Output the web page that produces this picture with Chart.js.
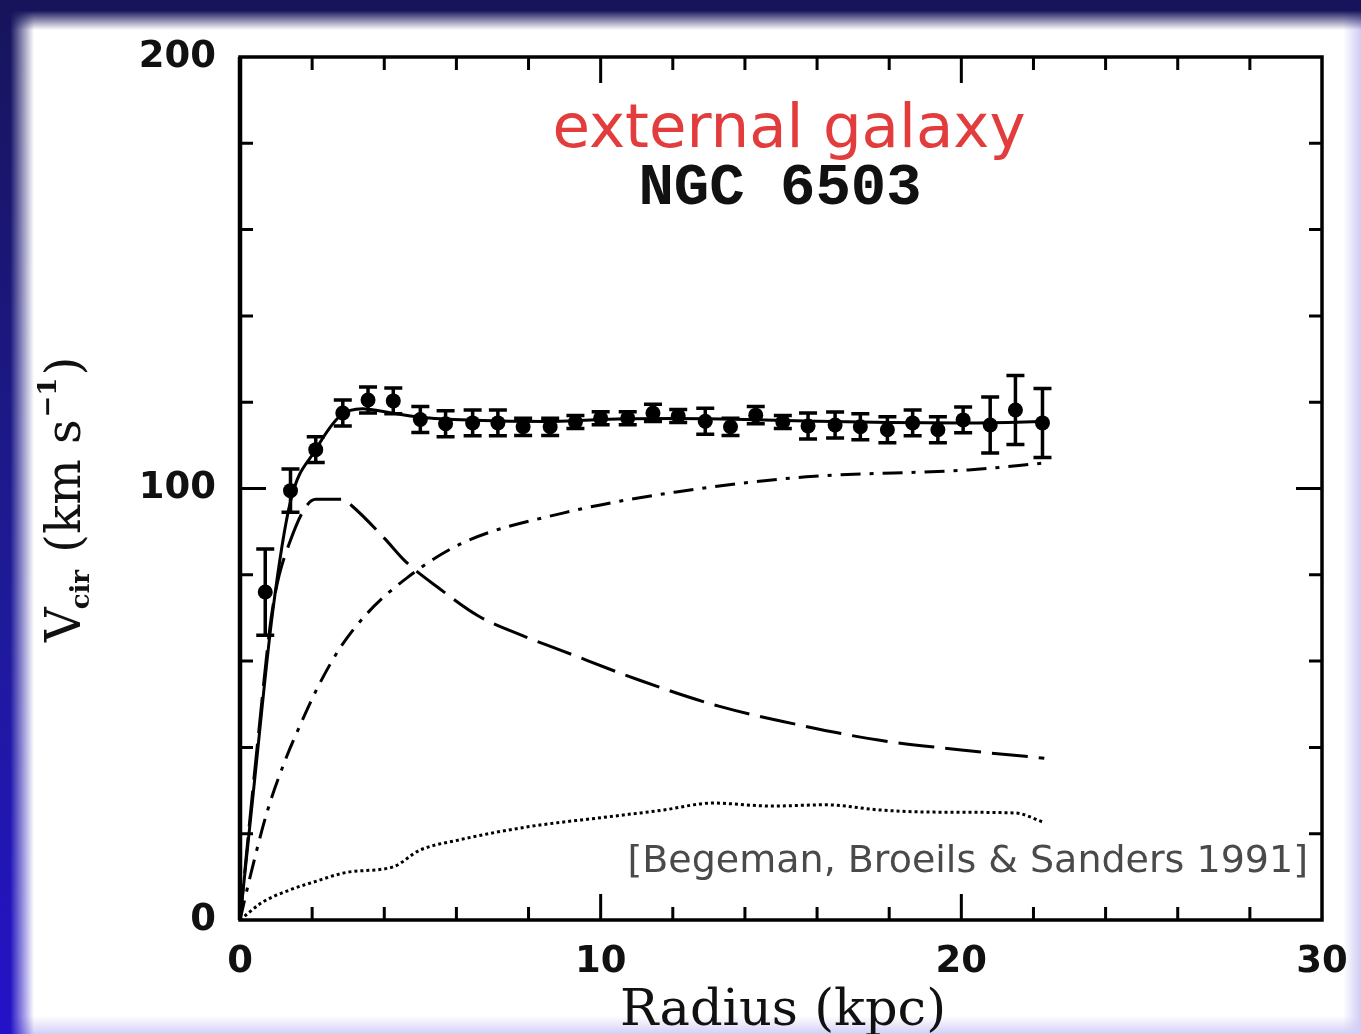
<!DOCTYPE html>
<html>
<head>
<meta charset="utf-8">
<script src="https://cdn.jsdelivr.net/npm/chart.js@4.4.1/dist/chart.umd.min.js"></script>
<style>
  html, body { margin: 0; padding: 0; background: #fff; }
  body { width: 1361px; height: 1034px; position: relative; overflow: hidden; }
  .edge { position: absolute; }
  #edge-left { left: 0; top: 0; width: 34px; height: 1034px;
    -webkit-mask-image: linear-gradient(to right, #000 30%, rgba(0,0,0,0) 100%);
    mask-image: linear-gradient(to right, #000 30%, rgba(0,0,0,0) 100%);
    background: linear-gradient(to bottom, #17145c, #1f1a9a 60%, #2412c8); }
  #edge-top { left: 0; top: 0; width: 1361px; height: 30px;
    background: linear-gradient(to bottom, #17145c 35%, rgba(23,20,92,0) 100%); }
  #edge-right { right: 0; top: 0; width: 18px; height: 1034px;
    background: linear-gradient(to left, #cfcbf3, rgba(207,203,243,0)); }
  #edge-bottom { left: 0; bottom: 0; width: 1361px; height: 18px;
    background: linear-gradient(to top, #d3cff6, rgba(211,207,246,0)); }
  #wrap { position: absolute; left: 0; top: 0; width: 1361px; height: 1034px; }
</style>
</head>
<body>
<div class="edge" id="edge-right"></div>
<div class="edge" id="edge-bottom"></div>
<div class="edge" id="edge-left"></div>
<div class="edge" id="edge-top"></div>
<div id="wrap"><canvas id="rotation-chart" width="1361" height="1034"></canvas></div>
<script>
// observed rotation curve of NGC 6503 (kpc, km/s)
const obsRadius = [0.7, 1.4, 2.1, 2.85, 3.55, 4.25, 5.0, 5.7, 6.45, 7.15, 7.85, 8.6, 9.3, 10.0, 10.75,
  11.45, 12.15, 12.9, 13.6, 14.3, 15.05, 15.75, 16.5, 17.2, 17.95, 18.65, 19.35, 20.05, 20.8, 21.5, 22.25];
const obsVel = [76, 99.5, 109, 117.5, 120.5, 120.3, 116, 115, 115.2, 115.2, 114.3, 114.3, 115.4, 116.3, 116.3,
  117.5, 116.8, 115.6, 114.3, 117, 115.4, 114.5, 114.7, 114.3, 113.6, 115.2, 113.6, 115.9, 114.7, 118.2, 115.2];
const obsErr = [10, 5, 3, 3, 3, 3, 3, 3, 3, 3, 2, 2, 1.5, 1.5, 1.5,
  2, 1.5, 3, 2, 2, 1.5, 3, 3, 3, 3, 3, 3, 3, 6.5, 8, 8];

// model components
const totalR = [0, 0.4, 0.9, 1.4, 2.1, 2.8, 3.4, 4.2, 5.0, 6.5, 8.5, 10, 12, 14, 16, 18, 20, 22.3];
const totalV = [0, 32, 71, 97, 109, 117, 118.5, 117.5, 116.5, 115.8, 115.5, 116, 116.2, 116, 115.6, 115.3, 115.2, 115.5];

const diskR = [0, 0.5, 0.9, 1.4, 2.1, 2.85, 3.1, 4.0, 4.6, 5.5, 6.6, 7.8, 8.9, 11.1, 13.3, 15.5, 17.7, 20, 22.3];
const diskV = [0, 42, 72, 88, 97.5, 97.5, 96, 88.5, 83, 77, 70.5, 66, 62.5, 55.5, 49.5, 45.2, 41.7, 39.4, 37.5];

const haloR = [0, 0.28, 0.75, 1.3, 1.66, 2.16, 2.77, 3.52, 4.63, 6.18, 8.95, 12.1, 15.7, 20.2, 22.3];
const haloV = [0, 10, 25, 38, 45, 54, 63, 71, 79.3, 87.4, 94.3, 99.2, 102.7, 104.3, 105.9];

const gasR = [0, 0.6, 1.39, 1.97, 3.0, 4.24, 4.99, 6.04, 7.98, 10.2, 11.75, 13.1, 14.75, 16.25, 17.74, 19.27, 21.5, 22.26];
const gasV = [0, 4, 7.0, 8.6, 11.1, 12.3, 16.2, 18.5, 21.6, 23.9, 25.5, 27.1, 26.4, 26.7, 25.5, 25.0, 24.8, 22.7];

const xTickLabels = [0, 10, 20, 30];
const yTickLabels = [0, 100, 200];

function toPoints(xs, ys) {
    return xs.map((x, i) => ({ x: x, y: ys[i] }));
}

function curve(label, xs, ys, dash) {
    return {
        label: label,
        data: toPoints(xs, ys),
        showLine: true,
        borderColor: '#000',
        borderWidth: 3,
        borderDash: dash,
        pointRadius: 0,
        cubicInterpolationMode: 'monotone',
        fill: false
    };
}

// error bars on observed points
const errorBars = {
    id: 'errorBars',
    afterDatasetsDraw(chart) {
        const ctx = chart.ctx;
        const xs = chart.scales.x, ys = chart.scales.y;
        ctx.save();
        ctx.strokeStyle = '#000';
        ctx.lineWidth = 3.5;
        for (let i = 0; i < obsRadius.length; i++) {
            const px = xs.getPixelForValue(obsRadius[i]);
            const top = ys.getPixelForValue(obsVel[i] + obsErr[i]);
            const bot = ys.getPixelForValue(obsVel[i] - obsErr[i]);
            ctx.beginPath();
            ctx.moveTo(px, top); ctx.lineTo(px, bot);
            ctx.moveTo(px - 9, top); ctx.lineTo(px + 9, top);
            ctx.moveTo(px - 9, bot); ctx.lineTo(px + 9, bot);
            ctx.stroke();
        }
        ctx.restore();
    }
};

// frame box with inward ticks on all four sides
const frameTicks = {
    id: 'frameTicks',
    afterDraw(chart) {
        const ctx = chart.ctx;
        const a = chart.chartArea;
        const xs = chart.scales.x, ys = chart.scales.y;
        ctx.save();
        ctx.strokeStyle = '#000';
        ctx.lineWidth = 3;
        ctx.beginPath();
        for (let v = 2; v < 30; v += 2) {
            const px = xs.getPixelForValue(v);
            const len = v % 10 === 0 ? 26 : 13;
            ctx.moveTo(px, a.bottom); ctx.lineTo(px, a.bottom - len);
            ctx.moveTo(px, a.top); ctx.lineTo(px, a.top + len);
        }
        for (let v = 20; v < 200; v += 20) {
            const py = ys.getPixelForValue(v);
            const len = v % 100 === 0 ? 26 : 13;
            ctx.moveTo(a.left, py); ctx.lineTo(a.left + len, py);
            ctx.moveTo(a.right, py); ctx.lineTo(a.right - len, py);
        }
        ctx.stroke();
        ctx.lineWidth = 3.5;
        ctx.strokeRect(a.left, a.top, a.right - a.left, a.bottom - a.top);
        ctx.lineWidth = 4.5;
        ctx.beginPath();
        ctx.moveTo(a.left, a.top); ctx.lineTo(a.left, a.bottom);
        ctx.stroke();
        ctx.restore();
    }
};

// titles and annotation texts
const texts = {
    id: 'texts',
    afterDraw(chart) {
        const ctx = chart.ctx;
        ctx.save();
        ctx.textBaseline = 'alphabetic';
        ctx.textAlign = 'center';

        ctx.fillStyle = '#e23c3c';
        ctx.font = '61px "DejaVu Sans"';
        ctx.fillText('external galaxy', 789, 147);

        ctx.fillStyle = '#111';
        ctx.font = 'bold 59px "Liberation Mono"';
        ctx.fillText('NGC 6503', 780, 204);

        ctx.fillStyle = '#4a4a4a';
        ctx.font = '38px "DejaVu Sans"';
        ctx.textAlign = 'right';
        ctx.fillText('[Begeman, Broeils & Sanders 1991]', 1308, 872);

        ctx.fillStyle = '#111';
        ctx.textAlign = 'center';
        ctx.font = '51px "DejaVu Serif"';
        ctx.fillText('Radius (kpc)', 783, 1025);

        // rotated y title: V_cir (km s^-1)
        ctx.translate(80, 642);
        ctx.rotate(-Math.PI / 2);
        ctx.textAlign = 'left';
        let x = 0;
        const big = '48px "DejaVu Serif"', small = 'bold 26px "DejaVu Serif"';
        ctx.font = big; ctx.fillText('V', x, 0); x += ctx.measureText('V').width;
        ctx.font = small; ctx.fillText('cir', x - 2, 9); x += ctx.measureText('cir').width;
        ctx.font = big; ctx.fillText(' (km s', x, 0); x += ctx.measureText(' (km s').width;
        ctx.font = small; ctx.fillText('\u22121', x + 2, -24); x += ctx.measureText('\u22121').width + 4;
        ctx.font = big; ctx.fillText(')', x, 0);
        ctx.restore();
    }
};

const ctx = document.getElementById('rotation-chart').getContext('2d');
window.rotationChart = new Chart(ctx, {
    type: 'scatter',
    data: {
        datasets: [
            {
                label: 'observed',
                data: toPoints(obsRadius, obsVel),
                backgroundColor: '#000',
                borderColor: '#000',
                pointRadius: 7.5,
                pointBorderWidth: 0
            },
            curve('total', totalR, totalV, []),
            curve('disk', diskR, diskV, [36, 11]),
            curve('halo', haloR, haloV, [20, 9, 4, 9]),
            curve('gas', gasR, gasV, [3, 3])
        ]
    },
    options: {
        responsive: false,
        animation: false,
        layout: { padding: { left: 40, top: 57, right: 39, bottom: 0 } },
        plugins: {
            legend: { display: false },
            tooltip: { enabled: false }
        },
        scales: {
            x: {
                type: 'linear',
                min: 0,
                max: 30,
                afterFit: scale => {
                    scale.height = 114;
                    scale.paddingLeft = 0;
                    scale.paddingRight = 0;
                },
                grid: { display: false, drawTicks: false },
                border: { display: false },
                ticks: {
                    stepSize: 2,
                    autoSkip: false,
                    maxRotation: 0,
                    padding: 20,
                    color: '#111',
                    font: { family: 'DejaVu Sans', size: 37, weight: 'bold' },
                    callback: v => xTickLabels.includes(v) ? String(v) : ''
                }
            },
            y: {
                type: 'linear',
                min: 0,
                max: 200,
                afterFit: scale => {
                    scale.width = 200;
                    scale.paddingTop = 0;
                    scale.paddingBottom = 0;
                },
                grid: { display: false, drawTicks: false },
                border: { display: false },
                ticks: {
                    stepSize: 20,
                    autoSkip: false,
                    padding: 24,
                    color: '#111',
                    font: { family: 'DejaVu Sans', size: 37, weight: 'bold' },
                    callback: v => yTickLabels.includes(v) ? String(v) : ''
                }
            }
        }
    },
    plugins: [errorBars, frameTicks, texts]
});
</script>
</body>
</html>
